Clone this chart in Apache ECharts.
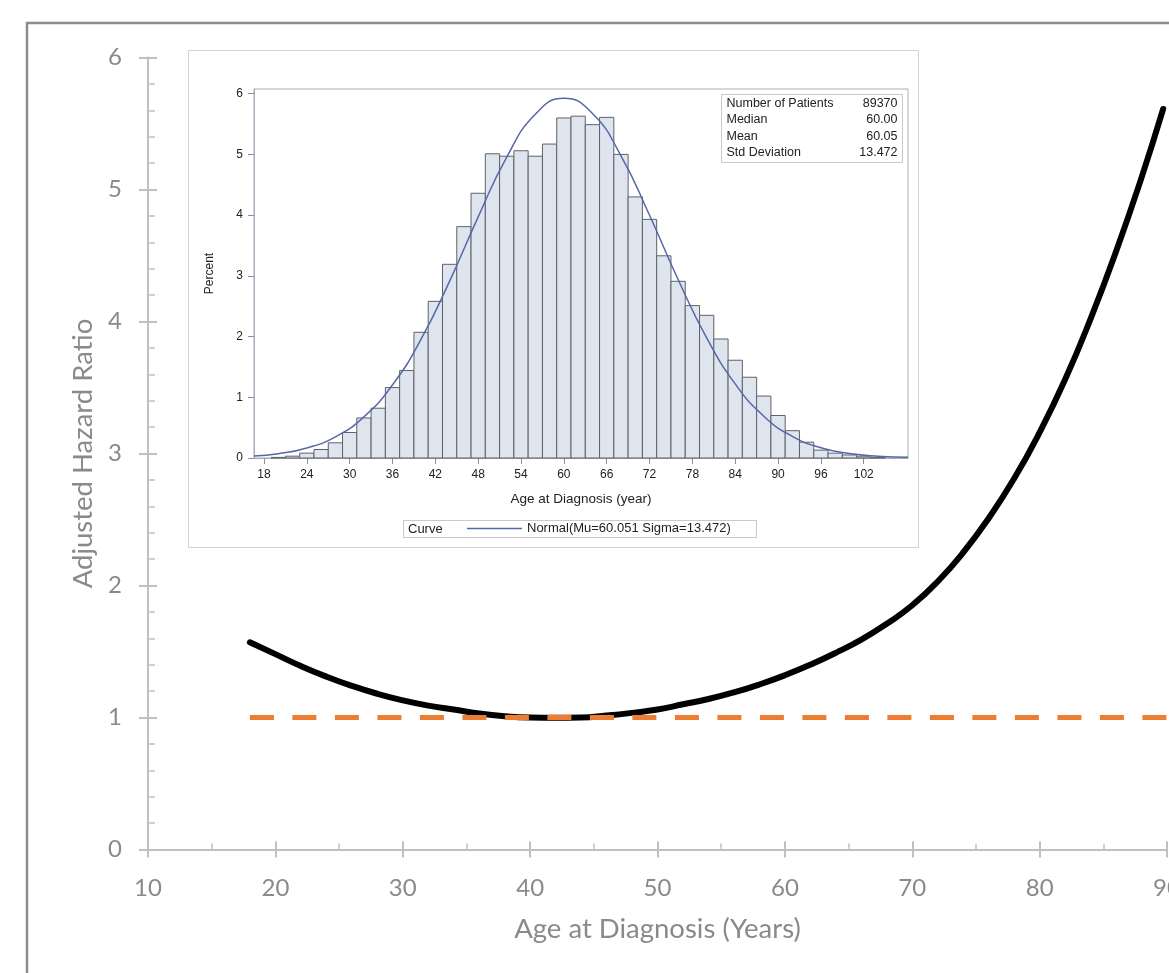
<!DOCTYPE html>
<html><head><meta charset="utf-8">
<script src="https://cdn.jsdelivr.net/npm/echarts@6/dist/echarts.min.js"></script>
<style>html,body{margin:0;padding:0;background:#fff}#c{width:1169px;height:973px}</style>
</head><body><div id="c"></div>
<script>
// ---------- Main chart data ----------
const hrAges = [18,20,22,24,26,28,30,32,34,36,38,40,42,44,46,48,50,52,54,56,58,60,62,64,66,68,70,72,74,76,78,80,82,84,86,88,89.7];
const hrValues = [1.57,1.48,1.39,1.31,1.24,1.18,1.13,1.09,1.06,1.03,1.01,1.0,0.998,1.0,1.015,1.035,1.06,1.10,1.14,1.19,1.25,1.32,1.40,1.49,1.59,1.71,1.85,2.03,2.25,2.51,2.81,3.16,3.56,4.02,4.53,5.09,5.61];
const refAges = [18, 90];
const refValues = [1, 1];
const mainXTicks = [10,20,30,40,50,60,70,80,90];
const mainYTicks = [0,1,2,3,4,5,6];

// ---------- Inset histogram data ----------
const binWidth = 2;
const histAges = [20,22,24,26,28,30,32,34,36,38,40,42,44,46,48,50,52,54,56,58,60,62,64,66,68,70,72,74,76,78,80,82,84,86,88,90,92,94,96,98,100,102,104];
const histPct = [0.01,0.03,0.08,0.14,0.25,0.42,0.66,0.82,1.16,1.44,2.07,2.58,3.19,3.81,4.36,5.01,4.97,5.06,4.97,5.17,5.60,5.63,5.49,5.61,5.00,4.30,3.93,3.33,2.91,2.51,2.35,1.96,1.61,1.33,1.02,0.70,0.45,0.26,0.13,0.08,0.05,0.02,0.01];
const curveAges = [16.6,20,24,28,32,36,40,44,48,52,56,60,64,68,72,76,80,84,88,92,96,100,104,108.2];
const curvePct = [0.033,0.071,0.165,0.349,0.678,1.204,1.957,2.913,3.970,4.955,5.661,5.923,5.674,4.977,3.997,2.939,1.978,1.220,0.688,0.356,0.168,0.073,0.029,0.011];
const insetXTicks = [18,24,30,36,42,48,54,60,66,72,78,84,90,96,102];
const insetYTicks = [0,1,2,3,4,5,6];
const statLabels = ['Number of Patients','Median','Mean','Std Deviation'];
const statValues = ['89370','60.00','60.05','13.472'];
const curveName = 'Normal(Mu=60.051 Sigma=13.472)';

const zip = (a,b) => a.map((v,i)=>[v,b[i]]);

const MAINFONT = 'Lato, "Open Sans", sans-serif';
const INFONT = '"Liberation Sans", Arial, sans-serif';
const axisGray = '#c0c0c0';
const textGray = '#8a8a8a';
const curveBlue = '#5468a8';

const chart = echarts.init(document.getElementById('c'), null, {renderer:'canvas'});

const statGroup = {
  type:'group', left:721, top:94, z:10,
  children: [
    {type:'rect', shape:{x:0,y:0,width:181,height:68}, style:{fill:'#fff', stroke:'#c9c9c9', lineWidth:1}}
  ].concat(statLabels.map((t,i)=>({
    type:'text', x:5, y:8.7+i*16.6, style:{text:t, font:'12.5px '+INFONT, fill:'#222', verticalAlign:'middle', align:'left'}
  }))).concat(statValues.map((t,i)=>({
    type:'text', x:176, y:8.7+i*16.6, style:{text:t, font:'12.5px '+INFONT, fill:'#222', verticalAlign:'middle', align:'right'}
  })))
};

const option = {
  animation:false,
  backgroundColor:'#fff',
  graphic:[
    {type:'rect', z:-10, shape:{x:27,y:23,width:1200,height:1000}, style:{fill:'none', stroke:'#8c8c8c', lineWidth:2.5}},
    {type:'rect', z:-5, shape:{x:188.5,y:50.5,width:730,height:497}, style:{fill:'#fff', stroke:'#d2d2d2', lineWidth:1}},
    statGroup,
    {type:'rect', z:10, shape:{x:403.5,y:520.5,width:353,height:17}, style:{fill:'none', stroke:'#c9c9c9', lineWidth:1}},
    {type:'text', z:10, x:408, y:529, style:{text:'Curve', font:'13px '+INFONT, fill:'#222', verticalAlign:'middle'}}
  ],
  legend:{
    show:true, left:467, top:522, itemWidth:55, padding:0,
    data:[{name:curveName, icon:'rect', itemStyle:{color:curveBlue}}],
    itemHeight:1.5,
    textStyle:{fontFamily:INFONT, fontSize:13, color:'#222'}
  },
  grid:[
    {left:148, right:2, top:57.5, bottom:123.5, outerBoundsMode:'none', containLabel:false},
    {left:254, top:89, width:654, height:369, show:true, borderColor:'#a7adb8', borderWidth:1, backgroundColor:'transparent', outerBoundsMode:'none', containLabel:false}
  ],
  xAxis:[
    {gridIndex:0, type:'value', min:10, max:90, interval:10, position:'bottom',
      name:'Age at Diagnosis (Years)', nameLocation:'middle', nameGap:66,
      nameTextStyle:{fontFamily:MAINFONT, fontSize:27.5, color:textGray},
      axisLine:{show:true, lineStyle:{color:axisGray, width:2}},
      axisTick:{show:true, inside:true, length:8, lineStyle:{color:axisGray, width:2}},
      minorTick:{show:true, splitNumber:2, length:6, lineStyle:{color:axisGray, width:1.5}},
      axisLabel:{show:true, margin:27, fontFamily:MAINFONT, fontSize:24, color:textGray, customValues:mainXTicks},
      splitLine:{show:false}},
    {gridIndex:0, type:'value', min:10, max:90, interval:10, position:'bottom',
      axisLine:{show:false}, axisLabel:{show:false}, splitLine:{show:false},
      axisTick:{show:true, inside:false, length:8, lineStyle:{color:axisGray, width:2}}},
    {gridIndex:1, type:'value', min:16.6, max:108.2, position:'bottom',
      name:'Age at Diagnosis (year)', nameLocation:'middle', nameGap:34,
      nameTextStyle:{fontFamily:INFONT, fontSize:13.5, color:'#222'},
      axisLine:{show:true, lineStyle:{color:'#a7adb8', width:1}},
      axisTick:{show:true, length:6, customValues:insetXTicks, lineStyle:{color:'#8a8f99', width:1}},
      axisLabel:{show:true, margin:11, fontFamily:INFONT, fontSize:12, color:'#222', customValues:insetXTicks},
      splitLine:{show:false}}
  ],
  yAxis:[
    {gridIndex:0, type:'value', min:0, max:6, interval:1, position:'left',
      name:'Adjusted Hazard Ratio', nameLocation:'middle', nameGap:50,
      nameTextStyle:{fontFamily:MAINFONT, fontSize:27.5, color:textGray},
      axisLine:{show:true, lineStyle:{color:axisGray, width:2}},
      axisTick:{show:true, inside:true, length:9, lineStyle:{color:axisGray, width:2}},
      minorTick:{show:true, splitNumber:5, length:7, lineStyle:{color:axisGray, width:1.5}},
      axisLabel:{show:true, margin:26, fontFamily:MAINFONT, fontSize:24, color:textGray, customValues:mainYTicks},
      splitLine:{show:false}},
    {gridIndex:0, type:'value', min:0, max:6, interval:1, position:'left',
      axisLine:{show:false}, axisLabel:{show:false}, splitLine:{show:false},
      axisTick:{show:true, inside:false, length:9, lineStyle:{color:axisGray, width:2}}},
    {gridIndex:1, type:'value', min:0, max:6.077, position:'left',
      name:'Percent', nameLocation:'middle', nameGap:38,
      nameTextStyle:{fontFamily:INFONT, fontSize:12, color:'#222'},
      axisLine:{show:true, lineStyle:{color:'#a7adb8', width:1}},
      axisTick:{show:true, length:6, customValues:insetYTicks, lineStyle:{color:'#8a8f99', width:1}},
      axisLabel:{show:true, margin:11, fontFamily:INFONT, fontSize:12, color:'#222', customValues:insetYTicks},
      splitLine:{show:false}}
  ],
  series:[
    {type:'line', name:'Adjusted HR', xAxisIndex:0, yAxisIndex:0, data:zip(hrAges,hrValues),
      smooth:0.5, symbol:'none', z:3,
      lineStyle:{color:'#000', width:6, cap:'round', join:'round'}},
    {type:'line', name:'Reference', xAxisIndex:0, yAxisIndex:0, data:zip(refAges,refValues),
      symbol:'none', z:4,
      lineStyle:{color:'#ed7d31', width:5, type:[24,18.5], cap:'butt'}},
    {type:'custom', name:'Histogram', xAxisIndex:2, yAxisIndex:2, data:zip(histAges,histPct), z:3,
      renderItem:function(params, api){
        const x = api.value(0), v = api.value(1);
        const p0 = api.coord([x-binWidth/2, 0]);
        const p1 = api.coord([x+binWidth/2, v]);
        return {type:'rect', shape:{x:p0[0], y:p1[1], width:p1[0]-p0[0], height:p0[1]-p1[1]},
          style:{fill:'#dfe5ef', stroke:'#5f6166', lineWidth:1}};
      }},
    {type:'line', name:curveName, xAxisIndex:2, yAxisIndex:2, data:zip(curveAges,curvePct),
      smooth:true, symbol:'none', z:5, itemStyle:{color:curveBlue},
      lineStyle:{color:curveBlue, width:1.5}}
  ]
};
chart.setOption(option);
</script></body></html>
